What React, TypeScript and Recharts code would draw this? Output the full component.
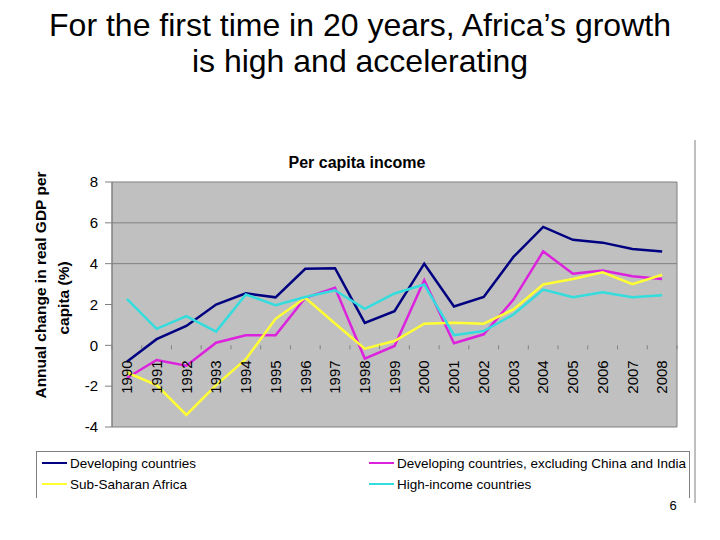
import { LineChart, Line, XAxis, YAxis, CartesianGrid } from 'recharts';

const years = ['1990', '1991', '1992', '1993', '1994', '1995', '1996', '1997', '1998', '1999', '2000', '2001', '2002', '2003', '2004', '2005', '2006', '2007', '2008'];
const developing = [-0.8, 0.3, 0.95, 2.0, 2.55, 2.35, 3.75, 3.78, 1.1, 1.67, 4.0, 1.9, 2.37, 4.33, 5.8, 5.17, 5.03, 4.72, 4.6];
const developingExChinaIndia = [-1.6, -0.72, -1.0, 0.13, 0.49, 0.49, 2.33, 2.82, -0.65, -0.03, 3.19, 0.1, 0.54, 2.24, 4.6, 3.51, 3.66, 3.38, 3.25];
const subSaharan = [-1.33, -1.95, -3.41, -1.95, -0.68, 1.3, 2.33, 1.07, -0.16, 0.21, 1.06, 1.1, 1.06, 1.76, 2.98, 3.25, 3.58, 3.0, 3.46];
const highIncome = [2.28, 0.81, 1.43, 0.67, 2.49, 1.97, 2.37, 2.7, 1.79, 2.54, 2.98, 0.5, 0.7, 1.51, 2.73, 2.36, 2.6, 2.36, 2.45];
const yTicks = [-4, -2, 0, 2, 4, 6, 8];
// Excel only shows major gridlines at 4 and 6, plus the plot frame
const gridValues = [-4, 4, 6, 8];

const series = [
  { key: 'developing', name: 'Developing countries', color: '#000080', values: developing },
  { key: 'exChinaIndia', name: 'Developing countries, excluding China and India', color: '#dd22dd', values: developingExChinaIndia },
  { key: 'subSaharan', name: 'Sub-Saharan Africa', color: '#ffff33', values: subSaharan },
  { key: 'highIncome', name: 'High-income countries', color: '#33dddd', values: highIncome },
];

const data = years.map((year, i) => {
  const row: Record<string, string | number> = { year };
  series.forEach((s) => { row[s.key] = s.values[i]; });
  return row;
});

const FONT = '"Liberation Sans", Arial, sans-serif';
const PLOT_LEFT = 112;
const PLOT_TOP = 182;
const PLOT_RIGHT = 677;
const PLOT_BOTTOM = 427;
const Y_MIN = -4;
const Y_MAX = 8;
const valueToY = (v: number) => PLOT_TOP + ((Y_MAX - v) / (Y_MAX - Y_MIN)) * (PLOT_BOTTOM - PLOT_TOP);
const ZERO_Y = valueToY(0);
const BAND = (PLOT_RIGHT - PLOT_LEFT) / years.length;
const Y_AXIS_W = 40;

function YearTick(props: any) {
  const { x, payload, index } = props;
  const ty = ZERO_Y + 15;
  return (
    <g>
      <line x1={x - BAND / 2} x2={x - BAND / 2} y1={ZERO_Y} y2={ZERO_Y + 4} stroke="#808080" />
      {index === years.length - 1 && (
        <line x1={x + BAND / 2} x2={x + BAND / 2} y1={ZERO_Y} y2={ZERO_Y + 4} stroke="#808080" />
      )}
      <text x={x} y={ty} transform={`rotate(-90 ${x} ${ty})`} textAnchor="end" dy="0.35em" fontSize={15} fontFamily={FONT} fill="#000">
        {payload.value}
      </text>
    </g>
  );
}

export default function App() {
  return (
    <div style={{ position: 'absolute', left: 0, top: 0, width: 720, height: 540, background: '#fff', fontFamily: FONT }}>
      <svg width={720} height={540} style={{ position: 'absolute', left: 0, top: 0 }}>
        <text x={360} y={36} textAnchor="middle" fontSize={32} fontFamily={FONT} fill="#000">For the first time in 20 years, Africa’s growth</text>
        <text x={360} y={72} textAnchor="middle" fontSize={32} fontFamily={FONT} fill="#000">is high and accelerating</text>
        <text x={357} y={168} textAnchor="middle" fontSize={16} fontWeight="bold" fontFamily={FONT} fill="#000">Per capita income</text>
        <text x={41} y={285} transform="rotate(-90 41 285)" textAnchor="middle" dy="0.35em" fontSize={15.5} fontWeight="bold" fontFamily={FONT} fill="#000">Annual change in real GDP per</text>
        <text x={64} y={298} transform="rotate(-90 64 298)" textAnchor="middle" dy="0.35em" fontSize={15.5} fontWeight="bold" fontFamily={FONT} fill="#000">capita (%)</text>
        <line x1={695} x2={695} y1={140} y2={503} stroke="#808080" />
        <text x={673} y={510} textAnchor="middle" fontSize={13} fontFamily={FONT} fill="#000">6</text>
      </svg>
      <div style={{ position: 'absolute', left: 0, top: 0 }}>
        <LineChart
          width={720}
          height={540}
          data={data}
          margin={{ top: PLOT_TOP, right: 720 - PLOT_RIGHT, bottom: 540 - PLOT_BOTTOM - 1, left: PLOT_LEFT - Y_AXIS_W }}
        >
          <CartesianGrid
            horizontalPoints={gridValues.map(valueToY)}
            verticalPoints={[PLOT_LEFT, PLOT_RIGHT]}
            stroke="#808080"
            fill="#c0c0c0"
            fillOpacity={1}
          />
          <XAxis
            dataKey="year"
            height={1}
            interval={0}
            axisLine={false}
            tickLine={false}
            tick={<YearTick />}
            padding={{ left: BAND / 2, right: BAND / 2 }}
          />
          <YAxis
            width={Y_AXIS_W}
            domain={[Y_MIN, Y_MAX]}
            ticks={yTicks}
            interval={0}
            axisLine={{ stroke: '#808080' }}
            tickLine={{ stroke: '#808080' }}
            tickSize={7}
            tickMargin={7}
            tick={{ fontSize: 15, fill: '#000', fontFamily: FONT }}
          />
          {series.map((s) => (
            <Line
              key={s.key}
              type="linear"
              dataKey={s.key}
              name={s.name}
              stroke={s.color}
              strokeWidth={2.5}
              dot={false}
              isAnimationActive={false}
            />
          ))}
        </LineChart>
      </div>
      <div
        style={{
          position: 'absolute',
          left: 36,
          top: 451,
          width: 652,
          height: 46,
          borderTop: '1px solid #808080',
          borderLeft: '1px solid #808080',
          borderRight: '1px solid #808080',
        }}
      />
      {series.map((s, i) => {
        const col = i === 1 || i === 3 ? 1 : 0;
        const row = i < 2 ? 0 : 1;
        const left = col === 0 ? 42 : 369;
        const top = row === 0 ? 463 : 484;
        return (
          <div key={s.key} style={{ position: 'absolute', left, top: top - 9, height: 18, display: 'flex', alignItems: 'center', whiteSpace: 'nowrap' }}>
            <span style={{ display: 'inline-block', width: 25, height: 2.5, background: s.color, marginRight: 3 }} />
            <span style={{ fontSize: 13.5, color: '#000' }}>{s.name}</span>
          </div>
        );
      })}
    </div>
  );
}
